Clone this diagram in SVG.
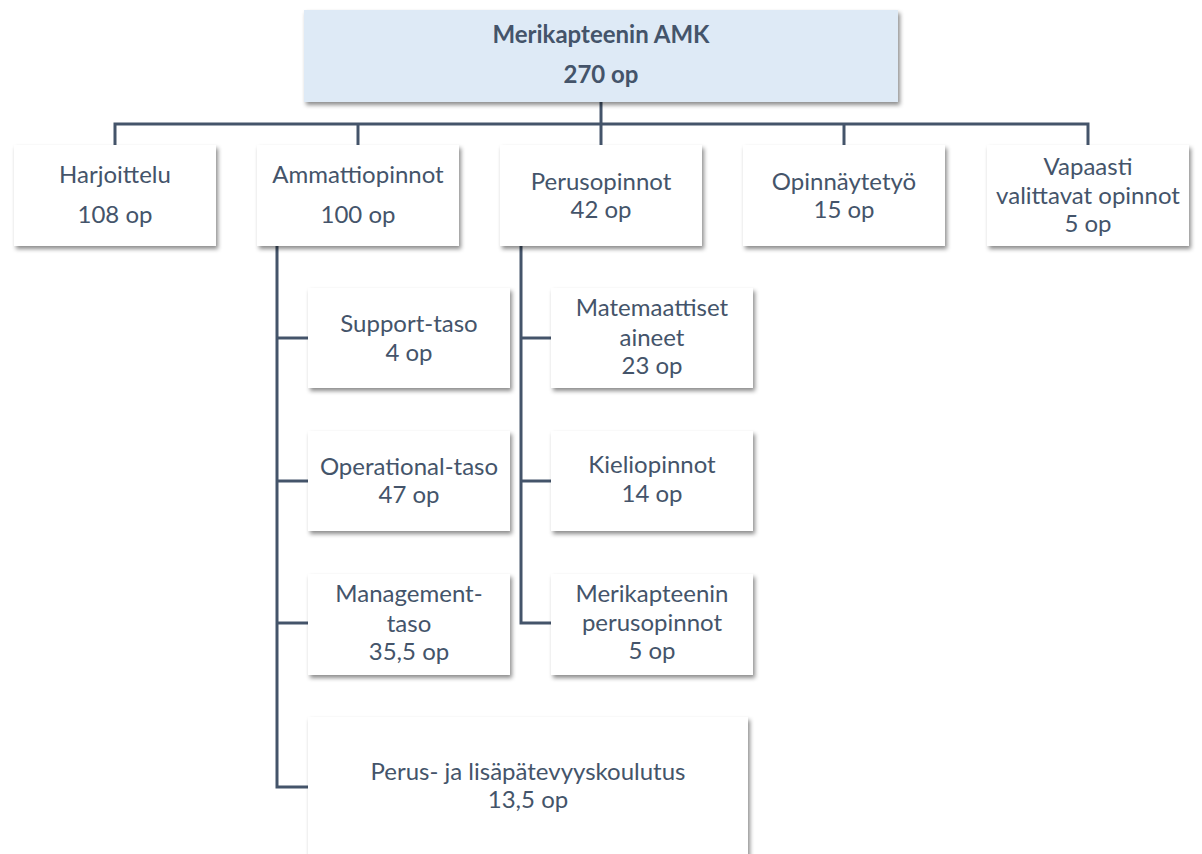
<svg xmlns="http://www.w3.org/2000/svg" width="1202" height="854" viewBox="0 0 1202 854">
  <defs>
    <filter id="shadow" x="-10%" y="-10%" width="125%" height="130%">
      <feDropShadow dx="2" dy="3" stdDeviation="2" flood-color="#000" flood-opacity="0.45"/>
    </filter>
  </defs>
  <style>
    .box { fill: #ffffff; filter: url(#shadow); }
    .root { fill: #DEEAF6; filter: url(#shadow); }
    .lbl { font-family: Lato, "Liberation Sans", sans-serif; font-size: 24px; fill: #44546A; text-anchor: middle; }
    .bold { font-weight: bold; }
    .conn { fill: none; stroke: #44546A; stroke-width: 3; }
  </style>
  <rect width="1202" height="854" fill="#ffffff"/>

  <!-- connectors -->
  <g id="connectors" class="conn">
    <path d="M601 102 V124"/>
    <path d="M115 145 V124 H1088 V145"/>
    <path d="M358 124 V145"/>
    <path d="M601 124 V145"/>
    <path d="M844 124 V145"/>
    <path d="M277 246 V787 H308"/>
    <path d="M277 338 H308"/>
    <path d="M277 481 H308"/>
    <path d="M277 623 H308"/>
    <path d="M521 246 V623 H551"/>
    <path d="M521 338 H551"/>
    <path d="M521 481 H551"/>
  </g>

  <g id="n-root">
    <rect class="root" x="304" y="10" width="594" height="92"/>
    <text class="lbl bold" x="601" y="43">Merikapteenin AMK</text>
    <text class="lbl bold" x="601" y="83">270 op</text>
  </g>

  <g id="n-harjoittelu">
    <rect class="box" x="14" y="145" width="202" height="101"/>
    <text class="lbl" x="115" y="183">Harjoittelu</text>
    <text class="lbl" x="115" y="223">108 op</text>
  </g>

  <g id="n-ammattiopinnot">
    <rect class="box" x="257" y="145" width="202" height="101"/>
    <text class="lbl" x="358" y="183">Ammattiopinnot</text>
    <text class="lbl" x="358" y="223">100 op</text>
  </g>

  <g id="n-perusopinnot">
    <rect class="box" x="500" y="145" width="202" height="101"/>
    <text class="lbl" x="601" y="190">Perusopinnot</text>
    <text class="lbl" x="601" y="218">42 op</text>
  </g>

  <g id="n-opinnaytetyo">
    <rect class="box" x="743" y="145" width="202" height="101"/>
    <text class="lbl" x="844" y="190">Opinnäytetyö</text>
    <text class="lbl" x="844" y="218">15 op</text>
  </g>

  <g id="n-vapaasti">
    <rect class="box" x="987" y="145" width="202" height="101"/>
    <text class="lbl" x="1088" y="175">Vapaasti</text>
    <text class="lbl" x="1088" y="204">valittavat opinnot</text>
    <text class="lbl" x="1088" y="232">5 op</text>
  </g>

  <g id="n-support">
    <rect class="box" x="308" y="288" width="202" height="100"/>
    <text class="lbl" x="409" y="332">Support-taso</text>
    <text class="lbl" x="409" y="361">4 op</text>
  </g>

  <g id="n-operational">
    <rect class="box" x="308" y="431" width="202" height="100"/>
    <text class="lbl" x="409" y="475">Operational-taso</text>
    <text class="lbl" x="409" y="503">47 op</text>
  </g>

  <g id="n-management">
    <rect class="box" x="308" y="574" width="202" height="101"/>
    <text class="lbl" x="409" y="602">Management-</text>
    <text class="lbl" x="409" y="632">taso</text>
    <text class="lbl" x="409" y="660">35,5 op</text>
  </g>

  <g id="n-lisapatevyys">
    <rect class="box" x="308" y="717" width="440" height="150"/>
    <text class="lbl" x="528" y="780">Perus- ja lisäpätevyyskoulutus</text>
    <text class="lbl" x="528" y="808">13,5 op</text>
  </g>

  <g id="n-matemaattiset">
    <rect class="box" x="551" y="288" width="202" height="100"/>
    <text class="lbl" x="652" y="316">Matemaattiset</text>
    <text class="lbl" x="652" y="346">aineet</text>
    <text class="lbl" x="652" y="374">23 op</text>
  </g>

  <g id="n-kieliopinnot">
    <rect class="box" x="551" y="431" width="202" height="100"/>
    <text class="lbl" x="652" y="473">Kieliopinnot</text>
    <text class="lbl" x="652" y="502">14 op</text>
  </g>

  <g id="n-merikapteenin-perus">
    <rect class="box" x="551" y="574" width="202" height="101"/>
    <text class="lbl" x="652" y="602">Merikapteenin</text>
    <text class="lbl" x="652" y="631">perusopinnot</text>
    <text class="lbl" x="652" y="659">5 op</text>
  </g>
</svg>
